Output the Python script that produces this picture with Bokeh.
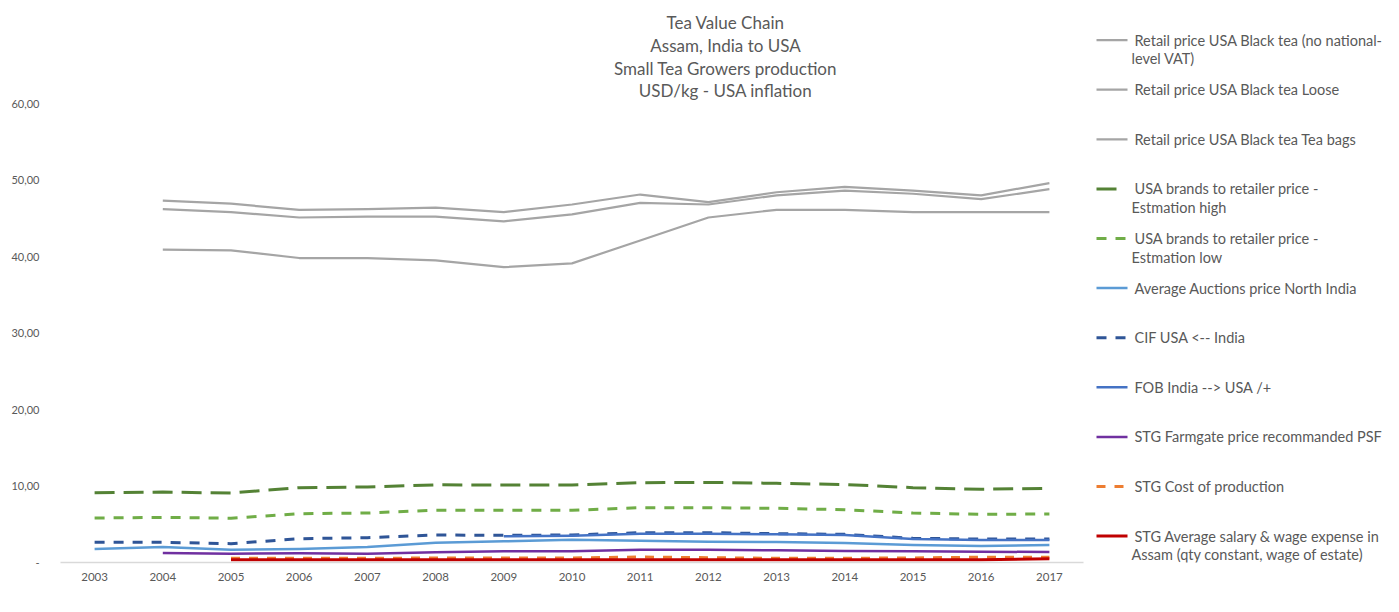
import numpy as np
from bokeh.plotting import figure
from bokeh.layouts import row
from bokeh.models import Range1d, FactorRange, FixedTicker, ColumnDataSource
from bokeh.core.properties import value
from bokeh.embed import file_html
from bokeh.resources import INLINE

# ---------------- data ----------------
years = ["2003", "2004", "2005", "2006", "2007", "2008", "2009", "2010",
         "2011", "2012", "2013", "2014", "2015", "2016", "2017"]

retail_no_vat = [None, 47.3, 46.9, 46.1, 46.2, 46.4, 45.8, 46.8, 48.1, 47.1, 48.4, 49.1, 48.6, 48.0, 49.6]
retail_loose = [None, 46.2, 45.8, 45.1, 45.2, 45.2, 44.6, 45.5, 47.0, 46.8, 48.0, 48.6, 48.2, 47.5, 48.8]
retail_bags = [None, 40.9, 40.8, 39.8, 39.8, 39.5, 38.6, 39.1, 42.1, 45.1, 46.1, 46.1, 45.8, 45.8, 45.8]
brand_high = [9.12, 9.20, 9.08, 9.78, 9.87, 10.15, 10.13, 10.13, 10.43, 10.47, 10.35, 10.20, 9.78, 9.57, 9.70]
brand_low = [5.82, 5.90, 5.78, 6.38, 6.47, 6.84, 6.82, 6.82, 7.16, 7.16, 7.08, 6.90, 6.47, 6.30, 6.34]
auction = [1.76, 2.03, 1.68, 1.76, 2.03, 2.59, 2.77, 2.98, 2.85, 2.72, 2.68, 2.55, 2.29, 2.16, 2.29]
cif = [2.64, 2.64, 2.46, 3.11, 3.24, 3.60, 3.55, 3.60, 3.90, 3.90, 3.77, 3.68, 3.16, 3.07, 3.07]
fob = [None, None, None, None, None, None, 3.42, 3.50, 3.77, 3.77, 3.68, 3.60, 3.07, 2.94, 2.94]
farmgate = [None, 1.24, 1.15, 1.20, 1.15, 1.33, 1.46, 1.46, 1.68, 1.68, 1.59, 1.50, 1.46, 1.41, 1.37]
cost_prod = [None, None, 0.55, 0.55, 0.55, 0.59, 0.59, 0.59, 0.72, 0.63, 0.55, 0.55, 0.60, 0.70, 0.68]
wage = [None, None, 0.37, 0.37, 0.37, 0.37, 0.37, 0.37, 0.37, 0.37, 0.37, 0.37, 0.37, 0.37, 0.50]

y_ticks = [0, 10, 20, 30, 40, 50, 60]
y_tick_labels = ["-", "10,00", "20,00", "30,00", "40,00", "50,00", "60,00"]

title_lines = ["Tea Value Chain", "Assam, India to USA", "Small Tea Growers production", "USD/kg - USA inflation"]

series = [
    ("Retail price USA Black tea (no national-\nlevel VAT)", retail_no_vat, "#A5A5A5", 2.2, "solid"),
    ("Retail price USA Black tea Loose", retail_loose, "#A5A5A5", 2.2, "solid"),
    ("Retail price USA Black tea Tea bags", retail_bags, "#A5A5A5", 2.2, "solid"),
    ("USA brands to retailer price -\nEstmation high", brand_high, "#548235", 3, "20 9"),
    ("USA brands to retailer price -\nEstmation low", brand_low, "#70AD47", 3, "10 9"),
    ("Average Auctions price North India", auction, "#5B9BD5", 2.5, "solid"),
    ("CIF USA <-- India", cif, "#2F5597", 3, "10 9"),
    ("FOB India --> USA /+", fob, "#4472C4", 2.5, "solid"),
    ("STG Farmgate price recommanded PSF", farmgate, "#7030A0", 2.5, "solid"),
    ("STG Cost of production", cost_prod, "#ED7D31", 3, "9 9"),
    ("STG Average salary & wage expense in\nAssam (qty constant, wage of estate)", wage, "#C00000", 3, "solid"),
]

FONT = "Lato"
TXT = "#595959"

# ---------------- main chart ----------------
H = 596
px_per_unit = 7.65
frame_h = 562
p = figure(width=1090, height=H, x_range=FactorRange(*years, range_padding=0),
           y_range=Range1d(0, frame_h / px_per_unit),
           output_backend="svg", toolbar_location=None,
           min_border_left=60, min_border_right=7, min_border_top=0,
           min_border_bottom=H - frame_h)
p.outline_line_color = None
p.xgrid.grid_line_color = None
p.ygrid.grid_line_color = None
p.background_fill_color = "white"
p.border_fill_color = "white"

p.yaxis.ticker = FixedTicker(ticks=y_ticks)
p.yaxis.major_label_overrides = {t: l for t, l in zip(y_ticks, y_tick_labels)}
p.yaxis.axis_line_color = None
p.yaxis.major_tick_line_color = None
p.yaxis.minor_tick_line_color = None
p.yaxis.major_tick_out = 0
p.yaxis.major_label_standoff = 21
p.yaxis.major_label_text_font = FONT
p.yaxis.major_label_text_font_size = "11px"
p.yaxis.major_label_text_color = TXT

p.xaxis.axis_line_color = "#D9D9D9"
p.xaxis.axis_line_width = 1.5
p.xaxis.major_tick_line_color = None
p.xaxis.minor_tick_line_color = None
p.xaxis.major_tick_out = 0
p.xaxis.major_label_standoff = 10
p.xaxis.major_label_text_font = FONT
p.xaxis.major_label_text_font_size = "11.5px"
p.xaxis.major_label_text_color = TXT

for name, vals, color, w, dash in series:
    arr = np.array(vals, dtype=float)
    src = ColumnDataSource(dict(x=years, y=arr))
    p.line("x", "y", source=src, line_color=color, line_width=w, line_dash=dash,
           line_join="round")

# title (centered at page x ~725)
title_x = (725 - 60) / (1023 / 15)
title_fig_y = [21.7, 45.0, 67.7, 90.0]
title_y = [(frame_h - fy) / px_per_unit for fy in title_fig_y]
p.text(x=[title_x] * 4, y=title_y, text=title_lines, text_align="center",
       text_baseline="middle", text_font=value(FONT), text_font_size="17px",
       text_color=TXT)

# ---------------- legend panel ----------------
LW = 293
q = figure(width=LW, height=H, x_range=Range1d(0, LW), y_range=Range1d(H, 0),
           output_backend="svg", toolbar_location=None,
           min_border=0, x_axis_location=None, y_axis_location=None)
q.outline_line_color = None
q.xgrid.grid_line_color = None
q.ygrid.grid_line_color = None
q.background_fill_color = "white"
q.border_fill_color = "white"

tx, ty, tt = [], [], []
for i, (name, vals, color, w, dash) in enumerate(series):
    yc = 42 + 52.6 * i
    x_end = 26 if dash == "20 9" else 37
    q.segment(x0=[6], y0=[yc], x1=[x_end], y1=[yc], line_color=color, line_width=w,
              line_dash=dash)
    for j, ln in enumerate(name.split("\n")):
        tx.append(44 if j == 0 else 41)
        ty.append(yc + 20 * j)
        tt.append(ln)
q.text(x=tx, y=ty, text=tt, text_baseline="middle", text_align="left",
       text_font=value(FONT), text_font_size="14.5px", text_color=TXT)

layout = row(p, q, spacing=0)
open("out.html", "w").write(file_html(layout, INLINE))
